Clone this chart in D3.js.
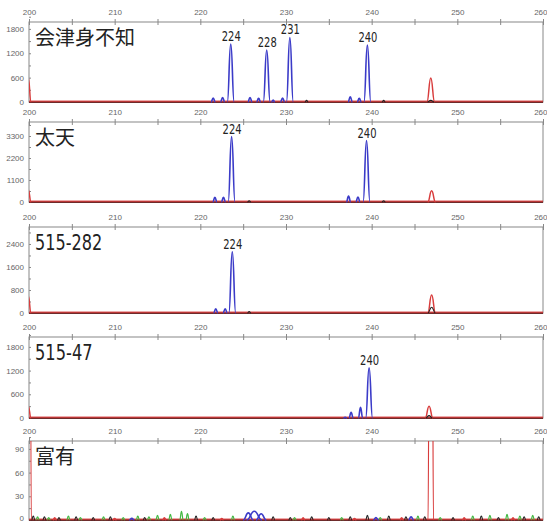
<!DOCTYPE html>
<html>
<head>
<meta charset="utf-8">
<script src="https://cdn.jsdelivr.net/npm/d3@7/dist/d3.min.js"></script>
<style>
body { margin: 0; background: #fff; }
svg { display: block; }
.tick text { font-family: "Liberation Sans", Arial, sans-serif; font-size: 8px; fill: #666; }
.tick line, .domain { stroke: #888; }
.ttl { font-family: "Liberation Sans Narrow", "DejaVu Sans Condensed", "Noto Sans CJK JP", sans-serif; fill: #222; }
.call { font-family: "Liberation Sans Narrow", "DejaVu Sans Condensed", sans-serif; font-size: 14px; fill: #222; }
</style>
</head>
<body>
<div id="graph_container"></div>
<script>
var width  = 547;
var height = 523;

// size axis (bp)
var x_ticks      = [200, 205, 210, 215, 220, 225, 230, 235, 240, 245, 250, 255, 260];
var panel_names  = ["会津身不知", "太天", "515-282", "515-47", "富有"];
var y_ticks      = [[0, 600, 1200, 1800], [0, 1100, 2200, 3300], [0, 800, 1600, 2400], [0, 600, 1200, 1800], [0, 30, 60, 90]];
var y_max        = [1970, 4000, 2990, 2050, 100];
var allele_calls = [[224, 228, 231, 240], [224, 240], [224], [240], []];

// peaks: [size, height, half width]
var blue_peaks = [
    [[221.5,100,0.25],[222.6,110,0.25],[223.55,1430,0.4],[225.8,110,0.25],[226.8,90,0.25],[227.75,1280,0.4],
     [228.5,50,0.2],[229.6,100,0.25],[230.45,1590,0.4],[237.5,130,0.25],[238.55,90,0.25],[239.5,1400,0.4]],
    [[221.7,230,0.25],[222.7,230,0.25],[223.65,3270,0.4],[237.3,300,0.25],[238.4,250,0.25],[239.4,3070,0.4]],
    [[221.8,150,0.25],[222.9,150,0.25],[223.73,2130,0.4]],
    [[236.9,20,0.2],[237.6,145,0.25],[238.7,270,0.25],[239.7,1270,0.4]],
    [[212,2,0.3],[225.6,9,0.6],[226.3,11,0.9],[227.1,8,0.6],[240.5,3,0.3],[244.6,4,0.3]]
];
var red_peaks = [
    [[199.9,600,0.35],[246.9,590,0.45]],
    [[199.9,620,0.35],[247.0,565,0.45]],
    [[199.9,600,0.35],[247.0,625,0.45]],
    [[199.9,300,0.35],[246.7,300,0.45]],
    [[199.9,3000,0.35],[246.9,1500,0.3],[203,3,0.2],[210,2,0.2],[215.8,3,0.2],[222.5,2,0.2],[232,3,0.2],
     [238,2,0.2],[243.5,3,0.2],[250.8,3,0.2],[256.5,3,0.2]]
];
var black_peaks = [
    [[232.4,40,0.2],[241.4,40,0.2],[246.9,40,0.4]],
    [[225.7,60,0.2],[241.4,60,0.2]],
    [[225.7,50,0.2],[247.0,200,0.45]],
    [[246.7,60,0.4]],
    [[200.5,5,0.2],[201.8,4,0.2],[203.5,3,0.2],[205.5,4,0.2],[207.5,3,0.2],[209.5,4,0.2],[213.5,3,0.2],
     [219.5,5,0.2],[221.5,3,0.2],[228.5,4,0.2],[230.5,3,0.2],[233,4,0.2],[235,3,0.2],[237.5,4,0.2],
     [239.5,6,0.2],[242,5,0.2],[244,4,0.2],[246.2,4,0.2],[249.5,3,0.2],[252.8,5,0.2],[254.8,3,0.2],
     [257.8,4,0.2],[259.5,4,0.2]]
];
var green_peaks = [
    [], [], [], [],
    [[201,4,0.2],[202.3,3,0.2],[204.6,5,0.2],[206,3,0.2],[208.7,4,0.2],[211,3,0.2],[212.7,5,0.2],[214,4,0.2],
     [215,6,0.2],[216.5,7,0.2],[217.8,11,0.2],[218.5,8,0.2],[220.5,3,0.2],[223.8,5,0.2],[231,3,0.2],
     [236.5,3,0.2],[241,3,0.2],[245.4,5,0.2],[248,3,0.2],[251.8,5,0.2],[253.8,6,0.2],[255.8,7,0.2],
     [257.3,5,0.2],[258.8,6,0.2]]
];

var panel_top    = [22, 122, 227, 337, 441];
var panel_bottom = [102, 202, 313, 418, 520];
var left  = 29;
var right = 543;

var colors = { blue: "#3b3bc8", red: "#d83c3c", black: "#222", green: "#43b843" };

var svg = d3.select("#graph_container").append("svg")
    .attr("width", width).attr("height", height);

var x = d3.scaleLinear().domain([200, 260]).range([left, right]);

function draw_panel(i) {
    var top = panel_top[i], bottom = panel_bottom[i];
    var y = d3.scaleLinear().domain([0, y_max[i]]).range([bottom, top]);
    var g = svg.append("g");

    g.append("clipPath").attr("id", "clip" + i)
        .append("rect").attr("x", left).attr("y", top).attr("width", right - left).attr("height", bottom - top + 2);

    // frame
    g.append("rect").attr("x", left).attr("y", top).attr("width", right - left).attr("height", bottom - top)
        .attr("fill", "none").attr("stroke", "#888").attr("stroke-width", 1);

    // top axis
    var ax = g.append("g").attr("transform", "translate(0," + top + ")")
        .call(d3.axisTop(x).tickValues(x_ticks).tickSize(3).tickPadding(4)
            .tickFormat(function(d) { return d % 10 === 0 ? d : ""; }));
    ax.select(".domain").remove();
    ax.selectAll(".tick line").attr("y1", 3);
    // last label would run off the page
    ax.selectAll(".tick text").filter(function(d) { return d === 260; })
        .attr("text-anchor", "end").attr("dx", 4);

    // left axis with minor ticks
    var step = y_ticks[i][1];
    var all_y = [];
    y_ticks[i].forEach(function(v) { all_y.push(v); all_y.push(v + step / 2); });
    var ay = g.append("g").attr("transform", "translate(" + left + ",0)")
        .call(d3.axisLeft(y).tickValues(all_y).tickSize(3).tickPadding(2)
            .tickFormat(function(d) { return y_ticks[i].indexOf(d) >= 0 ? d : ""; }));
    ay.select(".domain").remove();
    ay.selectAll(".tick line").attr("x2", 2);
    // keep the lowest label on the page
    if (bottom + 4 > height) {
        ay.selectAll(".tick text").filter(function(d) { return d === 0; }).attr("dy", "0.05em");
    }

    var plot = g.append("g").attr("clip-path", "url(#clip" + i + ")");
    var line = d3.line().x(function(d) { return x(d[0]); }).y(function(d) { return y(d[1]); }).curve(d3.curveBumpX);

    // baseline
    plot.append("path").attr("d", line([[200, 0], [260, 0]]))
        .attr("stroke", colors.black).attr("stroke-width", 2).attr("fill", "none");
    plot.append("path").attr("d", d3.line()([[left, bottom - 0.5], [right, bottom - 0.5]]))
        .attr("stroke", colors.red).attr("stroke-width", 1.8).attr("fill", "none").attr("opacity", 0.85);

    function draw_peaks(peaks, color, sw) {
        plot.selectAll(null).data(peaks).enter().append("path")
            .attr("d", function(p) { return line([[p[0] - p[2], 0], [p[0], p[1]], [p[0] + p[2], 0]]); })
            .attr("fill", "none").attr("stroke", color).attr("stroke-width", sw);
    }
    draw_peaks(green_peaks[i], colors.green, 1.2);
    draw_peaks(red_peaks[i], colors.red, 1.5);
    draw_peaks(blue_peaks[i], colors.blue, 1.6);
    draw_peaks(black_peaks[i], colors.black, 1.1);

    // allele call labels
    allele_calls[i].forEach(function(a) {
        var near = blue_peaks[i].filter(function(p) { return Math.abs(p[0] - a) < 0.8; });
        var pk = near.reduce(function(m, p) { return p[1] > m[1] ? p : m; });
        g.append("text").attr("class", "call")
            .attr("x", x(pk[0]) + 0.5).attr("y", y(pk[1]) - 3)
            .attr("text-anchor", "middle")
            .attr("textLength", 19).attr("lengthAdjust", "spacingAndGlyphs")
            .text(a);
    });

    // sample title
    var name = panel_names[i];
    var is_num = /^[0-9-]+$/.test(name);
    var t = g.append("text").attr("class", "ttl")
        .attr("x", 35).attr("y", top + 23)
        .style("font-size", is_num ? "21px" : "20px")
        .text(name);
    if (is_num) {
        t.attr("textLength", name.length * 9.6).attr("lengthAdjust", "spacingAndGlyphs");
    }
}

for (var i = 0; i < panel_names.length; i++) {
    draw_panel(i);
}
</script>
</body>
</html>
